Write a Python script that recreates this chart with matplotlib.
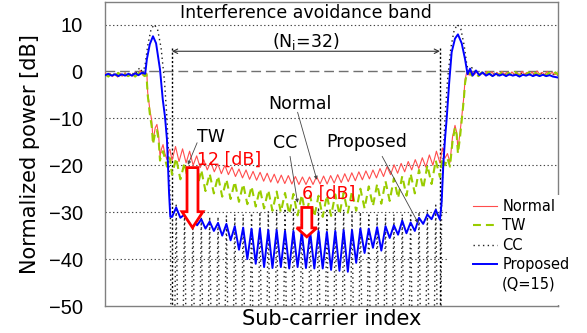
import numpy as np
import matplotlib

matplotlib.use("Agg")
import matplotlib.pyplot as plt  # noqa: E402
from matplotlib.lines import Line2D  # noqa: E402
from matplotlib.patches import FancyArrow, Rectangle  # noqa: E402


# sub-carrier index: 0 .. 32 is the interference avoidance band (N_i = 32)
BAND_START, BAND_END = 0.0, 32.0

# ---- Proposed (Q=15) ----
PROPOSED_LEFT = [
    (-8.0, -0.8), (-7.6, -0.5), (-7.2, -0.9), (-6.8, -0.6), (-6.4, -1.0), (-6.0, -0.6),
    (-5.6, -0.9), (-5.2, -0.5), (-4.8, -0.9), (-4.4, -0.4), (-4.0, -0.8), (-3.6, -0.3),
    (-3.2, -0.5), (-3.0, 2.6), (-2.65, 5.8), (-2.27, 7.5), (-1.9, 6.0), (-1.43, 0.4),
    (-1.1, -6.0), (-0.84, -9.6), (-0.6, -14.5), (-0.48, -20.0), (-0.35, -26.0), (-0.2, -31.0),
]
PROPOSED_BAND = [
    -31.0, -29.0, -31.2, -30.5, -32.0, -31.0, -32.8, -31.5, -33.5, -32.0, -34.0, -32.3,
    -35.0, -32.5, -36.0, -33.0, -38.0, -33.3, -40.0, -33.5, -41.0, -33.5, -41.7, -33.8,
    -41.9, -33.8, -41.7, -34.0, -42.0, -34.0, -41.7, -34.2, -41.9, -34.2, -42.0, -34.0,
    -42.0, -34.2, -42.3, -34.0, -42.5, -33.8, -42.7, -33.8, -40.8, -33.5, -38.7, -33.5,
    -37.6, -33.2, -38.2, -33.0, -35.5, -32.8, -34.8, -31.8, -34.5, -32.2, -34.0, -31.2,
    -32.5, -30.5, -31.5, -29.5, -31.6,
]
PROPOSED_RIGHT = [
    (32.2, -28.0), (32.4, -20.0), (32.6, -14.5), (32.8, -10.2), (33.1, -2.5), (33.4, 4.1),
    (33.8, 7.0), (34.15, 7.9), (34.6, 6.0), (35.0, 2.6), (35.3, -0.6), (35.6, 0.6),
    (35.9, -0.9), (36.3, 0.2), (36.7, -0.8), (37.1, -0.2), (37.5, -0.9), (37.9, -0.5),
    (38.3, -1.0), (38.7, -0.5), (39.1, -0.9), (39.5, -0.6), (39.9, -1.0), (40.3, -0.6),
    (40.7, -0.9), (41.1, -0.7), (41.5, -1.1), (41.9, -0.7), (42.3, -0.9), (42.7, -0.6),
    (43.1, -1.0), (43.5, -0.7), (43.9, -1.0), (44.3, -0.7), (44.7, -1.0), (45.1, -0.8),
    (45.5, -1.1), (46.1, -1.3),
]

# ---- CC ----
CC_LEFT = [
    (-8.0, -0.5), (-7.6, -0.9), (-7.2, -0.4), (-6.8, -0.8), (-6.4, -0.3), (-6.0, -0.9),
    (-5.6, -0.4), (-5.2, -0.8), (-4.8, -0.3), (-4.4, -0.7), (-4.1, 0.3), (-3.8, 0.8),
    (-3.5, -0.5), (-3.2, 1.5), (-2.9, 5.5), (-2.5, 9.0), (-2.1, 10.0), (-1.7, 8.8),
    (-1.3, 5.0), (-0.9, -2.0), (-0.6, -10.0), (-0.4, -18.0), (-0.2, -28.0),
]
# nulls (far below the axis) at every sub-carrier, lobe peaks between them
CC_PEAKS = [
    -28.5, -30.0, -30.5, -31.0, -31.0, -31.0, -30.8, -30.5, -30.5, -30.2, -30.0, -29.8,
    -29.5, -29.2, -29.0, -28.8, -29.0, -29.0, -29.2, -29.5, -29.5, -29.8, -30.0, -30.2,
    -30.5, -30.5, -30.5, -30.5, -30.2, -30.0, -29.5, -28.5,
]
CC_NULL = -100.0
CC_RIGHT = [
    (32.2, -28.0), (32.4, -18.0), (32.6, -10.0), (32.9, -2.0), (33.3, 5.0), (33.7, 8.8),
    (34.1, 10.0), (34.5, 9.0), (34.9, 5.5), (35.2, 1.5), (35.5, -0.5), (35.8, 0.8),
    (36.1, 0.3), (36.5, -0.6), (36.9, -0.2), (37.3, -0.8), (37.7, -0.3), (38.1, -0.8),
    (38.5, -0.4), (38.9, -0.9), (39.3, -0.4), (39.7, -0.8), (40.1, -0.3), (40.5, -0.8),
    (40.9, -0.4), (41.3, -0.9), (41.7, -0.4), (42.1, -0.8), (42.5, -0.3), (42.9, -0.8),
    (43.3, -0.4), (43.7, -0.9), (44.1, -0.4), (44.5, -0.8), (44.9, -0.4), (45.3, -0.9),
    (45.7, -0.5), (46.1, -0.8),
]

# ---- Normal ----
NORMAL_LEFT = [
    (-8.0, -0.3), (-7.7, -1.0), (-7.4, -0.4), (-7.1, -1.1), (-6.8, -0.5), (-6.5, -1.2),
    (-6.2, -0.4), (-5.9, -1.0), (-5.6, -0.3), (-5.3, -1.1), (-5.0, -0.5), (-4.7, -1.0),
    (-4.4, -0.2), (-4.1, -0.9), (-3.8, 0.2), (-3.5, -0.8), (-3.2, -0.2), (-3.0, -0.5),
    (-2.9, -4.5), (-2.65, -8.1), (-2.4, -10.7), (-2.27, -15.0), (-2.0, -12.0), (-1.8, -11.3),
    (-1.6, -13.5), (-1.43, -18.1), (-1.25, -16.5), (-1.07, -15.6), (-0.85, -17.5), (-0.6, -18.8),
    (-0.4, -17.0), (-0.24, -16.6),
]
NORMAL_BAND = [
    -19.0, -16.0, -19.2, -16.5, -19.5, -17.0, -20.0, -18.0, -20.5, -18.8, -21.0, -19.3,
    -21.4, -19.7, -21.8, -20.0, -22.0, -20.4, -22.4, -20.8, -22.7, -21.0, -23.0, -21.3,
    -23.2, -21.5, -23.4, -21.7, -23.6, -21.9, -23.8, -22.1, -23.9, -22.2, -24.0, -22.4,
    -24.1, -22.5, -24.1, -22.5, -24.1, -22.4, -24.0, -22.3, -24.0, -22.2, -23.8, -22.0,
    -23.7, -21.8, -23.5, -21.6, -23.3, -21.4, -23.1, -21.2, -22.9, -21.0, -22.7, -20.7,
    -22.4, -20.3, -22.0, -19.9, -21.7, -19.6, -21.4, -19.2, -21.0, -18.8, -20.7, -18.4,
    -20.4, -17.8, -20.0, -17.0, -19.5,
]
NORMAL_RIGHT = [
    (32.3, -16.3), (32.6, -18.5), (32.9, -17.5), (33.2, -19.4), (33.5, -14.0), (33.8, -11.5),
    (34.0, -13.0), (34.15, -16.6), (34.4, -13.0), (34.6, -9.8), (34.85, -5.5), (35.0, -1.7),
    (35.2, -0.2), (35.5, -0.8), (35.8, 0.0), (36.1, -0.7), (36.4, -0.1), (36.7, -0.8),
    (37.0, -0.2), (37.3, -0.7), (37.6, 0.0), (37.9, -0.6), (38.2, -0.1), (38.5, -0.8),
    (38.8, -0.2), (39.1, -0.7), (39.4, 0.0), (39.7, -0.6), (40.0, -0.2), (40.3, -0.8),
    (40.6, -0.1), (40.9, -0.7), (41.2, -0.2), (41.5, -0.8), (41.8, 0.0), (42.1, -0.6),
    (42.4, -0.2), (42.7, -0.8), (43.0, -0.1), (43.3, -0.7), (43.6, 0.1), (43.9, -0.6),
    (44.2, -0.2), (44.5, -0.7), (44.8, 0.0), (45.1, -0.6), (45.4, -0.2), (45.7, -0.7),
    (46.1, -0.3),
]

# ---- TW ----
TW_LEFT = [
    (-8.0, -0.6), (-7.6, -1.1), (-7.2, -0.5), (-6.8, -1.0), (-6.4, -0.3), (-6.0, -1.2),
    (-5.6, -0.6), (-5.2, -1.0), (-4.8, -0.3), (-4.4, -1.1), (-4.0, -0.4), (-3.6, 0.0),
    (-3.3, -1.0), (-3.05, -0.6), (-2.9, -5.0), (-2.65, -9.0), (-2.4, -12.0), (-2.27, -15.5),
    (-2.0, -13.0), (-1.8, -12.5), (-1.6, -14.5), (-1.43, -19.0), (-1.25, -17.5), (-1.07, -17.0),
    (-0.85, -18.5), (-0.6, -20.3), (-0.4, -18.5), (-0.24, -18.5),
]
TW_BAND = [
    -22.0, -18.5, -23.0, -19.5, -24.0, -20.5, -25.0, -21.0, -25.5, -21.8, -26.0, -22.3,
    -26.7, -23.0, -27.2, -23.5, -27.8, -24.0, -28.3, -24.5, -28.8, -25.0, -29.2, -25.3,
    -29.7, -25.6, -30.0, -25.9, -30.4, -26.1, -30.7, -26.3, -31.0, -26.5, -31.0, -26.5,
    -31.0, -26.4, -30.8, -26.2, -30.5, -25.9, -30.1, -25.5, -29.7, -25.0, -29.2, -24.5,
    -28.7, -24.0, -28.2, -23.4, -27.6, -22.8, -27.0, -22.3, -26.5, -21.8, -26.0, -21.0,
    -25.0, -20.0, -24.0, -19.0, -22.5,
]
TW_RIGHT = [
    (32.3, -18.5), (32.6, -20.0), (32.9, -18.5), (33.2, -20.3), (33.5, -15.0), (33.8, -12.0),
    (34.0, -13.5), (34.15, -17.5), (34.4, -14.0), (34.6, -10.5), (34.85, -6.0), (35.0, -2.5),
    (35.2, -0.5), (35.5, -0.2), (35.8, -0.9), (36.2, -0.3), (36.6, -1.0), (37.0, -0.2),
    (37.4, -0.8), (37.8, -0.1), (38.2, -0.9), (38.6, -0.3), (39.0, -0.8), (39.4, -0.2),
    (39.8, -1.0), (40.2, -0.3), (40.6, -0.8), (41.0, -0.1), (41.4, -0.9), (41.8, -0.3),
    (42.2, -0.8), (42.6, -0.2), (43.0, -0.9), (43.4, -0.3), (43.8, -0.8), (44.2, -0.2),
    (44.6, -0.9), (45.0, -0.3), (45.4, -0.8), (45.8, -0.2), (46.1, -0.7),
]

Y_TICKS = [-50, -40, -30, -20, -10, 0, 10]
GRID_LEVELS = [10, -10, -20, -30, -40]
LEGEND_LABELS = ["Normal", "TW", "CC", "Proposed", "(Q=15)"]


def series(left, band, right):
    left_k, left_db = zip(*left)
    right_k, right_db = zip(*right)
    band_k = np.linspace(BAND_START, BAND_END, len(band))
    k = np.concatenate([left_k, band_k, right_k])
    db = np.concatenate([left_db, band, right_db])
    return k, db


def cc_band():
    values = [CC_NULL]
    for peak in CC_PEAKS:
        values += [peak, CC_NULL]
    return values


def main() -> None:
    fig = plt.figure(figsize=(5.87, 3.33), dpi=100)
    ax = fig.add_axes([105 / 587, 27 / 333, 453 / 587, 304 / 333])
    ax.set_xlim(-8.0, 46.1)
    ax.set_ylim(-50, 14.8)

    for level in GRID_LEVELS:
        ax.axhline(level, color="#444444", lw=0.8, ls=(0, (1.2, 2.2)), zorder=1)
    ax.axhline(0, color="#707070", lw=1.0, ls=(0, (7, 3.5)), zorder=1)

    k, db = series(CC_LEFT, cc_band(), CC_RIGHT)
    cc_line, = ax.plot(k, db, color="#222222", lw=1.0, ls=(0, (1.0, 2.4)), zorder=2)
    k, db = series(NORMAL_LEFT, NORMAL_BAND, NORMAL_RIGHT)
    normal_line, = ax.plot(k, db, color="#ff4d4d", lw=0.8, zorder=3)
    k, db = series(TW_LEFT, TW_BAND, TW_RIGHT)
    tw_line, = ax.plot(k, db, color="#99cc00", lw=1.5, ls=(0, (3.8, 2.4)), zorder=3)
    k, db = series(PROPOSED_LEFT, PROPOSED_BAND, PROPOSED_RIGHT)
    prop_line, = ax.plot(k, db, color="#0000ff", lw=1.4, zorder=4)

    # band edges and N_i arrow
    for edge in (BAND_START, BAND_END):
        ax.plot([edge, edge], [5.0, -50], color="black", lw=1.0, ls=(0, (1.5, 1.5)), zorder=2)
    ax.annotate("", xy=(BAND_START, 4.3), xytext=(BAND_END, 4.3),
                arrowprops=dict(arrowstyle="<->", color="#333333", lw=0.8,
                                shrinkA=0, shrinkB=0, mutation_scale=8), zorder=5)
    ax.text(16, 6.3, "(N$_{\\mathrm{i}}$=32)", ha="center", va="center", fontsize=12.5, zorder=7)
    ax.text(16, 12.4, "Interference avoidance band", ha="center", va="center",
            fontsize=12.5, zorder=7)

    # curve labels with leader lines
    labels = [
        ("TW", (4.66, -13.9), (3.0, -15.2), (1.9, -19.9)),
        ("CC", (13.5, -15.3), (14.1, -18.1), (15.0, -28.0)),
        ("Normal", (15.3, -7.0), (15.0, -8.7), (17.3, -23.1)),
        ("Proposed", (23.2, -15.1), (25.1, -18.1), (29.4, -32.3)),
    ]
    for text, pos, start, end in labels:
        ax.text(*pos, text, ha="center", va="center", fontsize=12.5, zorder=7)
        ax.annotate("", xy=end, xytext=start,
                    arrowprops=dict(arrowstyle="-|>", color="#444444", lw=0.6,
                                    shrinkA=0, shrinkB=0, mutation_scale=5), zorder=5)

    # reduction arrows
    ax.add_patch(FancyArrow(2.45, -20.5, 0, -12.8, width=1.31, head_width=2.5, head_length=3.4,
                            length_includes_head=True, fc="white", ec="red", lw=2, zorder=6))
    ax.add_patch(FancyArrow(16.1, -29.0, 0, -6.25, width=1.2, head_width=2.4, head_length=1.9,
                            length_includes_head=True, fc="white", ec="red", lw=2, zorder=6))
    ax.text(6.8, -18.8, "12 [dB]", color="red", ha="center", va="center", fontsize=12.5, zorder=7)
    ax.text(18.7, -26.1, "6 [dB]", color="red", ha="center", va="center", fontsize=12.5, zorder=7)

    ax.set_xticks([])
    ax.set_yticks(Y_TICKS)
    ax.set_yticklabels([f"{t}".replace("-", "\u2212") for t in Y_TICKS],
                       family="Liberation Sans", fontsize=14.5)
    ax.tick_params(axis="y", length=0, pad=16)
    ax.set_xlabel("Sub-carrier index", fontsize=15, labelpad=2)
    ax.set_ylabel("Normalized power [dB]", fontsize=15, labelpad=6)
    for spine in ax.spines.values():
        spine.set_color("#808080")
        spine.set_linewidth(1.0)

    # legend on a white patch covering the lower right corner
    ax.add_patch(Rectangle(((448 - 105) / 453, 0.004), 1.2, (306 - 195) / 304 - 0.004,
                           transform=ax.transAxes, fc="white", ec="none", clip_on=False, zorder=8))
    blank = Line2D([], [], color="none")
    leg = ax.legend([normal_line, tw_line, cc_line, prop_line, blank], LEGEND_LABELS,
                    loc="upper left", bbox_to_anchor=(473 / 587, 1 - 199 / 333),
                    bbox_transform=fig.transFigure, frameon=False, borderpad=0,
                    borderaxespad=0, handlelength=1.65, handletextpad=0.35,
                    labelspacing=0.3, fontsize=10.5)
    leg.set_zorder(9)

    fig.savefig("out.png", dpi=100)
    plt.close(fig)


if __name__ == "__main__":
    main()
